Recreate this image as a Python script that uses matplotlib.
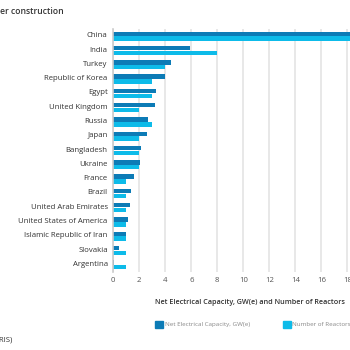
import numpy as np
import matplotlib.pyplot as plt

plt.rcParams['font.family'] = ['Open Sans', 'DejaVu Sans']

countries = ['China', 'India', 'Turkey', 'Republic of Korea', 'Egypt', 'United Kingdom',
             'Russia', 'Japan', 'Bangladesh', 'Ukraine', 'France', 'Brazil',
             'United Arab Emirates', 'United States of America', 'Islamic Republic of Iran',
             'Slovakia', 'Argentina']
capacity = [21.0, 5.9, 4.4, 4.0, 3.3, 3.2, 2.7, 2.6, 2.15, 2.05, 1.6, 1.35, 1.3, 1.1, 0.97, 0.47, 0.03]
reactors = [22, 8, 4, 3, 3, 2, 3, 2, 2, 2, 1, 1, 1, 1, 1, 1, 1]

dark = '#0c7bb6'
light = '#0dbbe9'

fig = plt.figure(figsize=(3.5, 3.5), dpi=100)
W, H = 350.0, 350.0
# axes: x=0 at 113 px, 13 px per unit, xlim 0..22 (extends past right edge)
x0, top, bottom = 113.3, 29.0, 272.0
xmax = 22
ax = fig.add_axes([x0 / W, 1 - bottom / H, xmax * 13.0 / W, (bottom - top) / H])

y = np.arange(len(countries))
h = 0.31
ax.barh(y - 0.17, capacity, height=h, color=dark, zorder=3)
ax.barh(y + 0.17, reactors, height=h, color=light, zorder=3)

ax.set_ylim(len(countries) - 0.5, -0.5)
ax.set_xlim(0, xmax)
ax.set_xticks(np.arange(0, 22, 2))
ax.set_yticks(y - 0.1)
ax.set_yticklabels(countries)
ax.tick_params(axis='y', length=0, pad=4, labelsize=5.6, labelcolor='#333333')
ax.tick_params(axis='x', length=0, pad=3.5, labelsize=5.6, labelcolor='#555555')
ax.grid(axis='x', color='#e6e6e6', linewidth=1.3, zorder=0)
for s in ['top', 'right', 'bottom']:
    ax.spines[s].set_visible(False)
ax.spines['left'].set_color('#cccccc')
ax.spines['left'].set_linewidth(1.2)
ax.spines['left'].set_zorder(4)

fig.text(64 / W, 1 - 11 / H, 'Number of Reactors under construction', ha='right', va='center',
         fontsize=6.2, fontweight='semibold', color='#333333')
fig.text(155 / W, 1 - 303 / H, 'Net Electrical Capacity, GW(e) and Number of Reactors',
         ha='left', va='center', fontsize=5.25, fontweight='semibold', color='#333333')

# legend
fig.patches.append(plt.Rectangle((155 / W, 1 - 328 / H), 7.5 / W, 7.5 / H,
                                 transform=fig.transFigure, color=dark))
fig.text(165 / W, 1 - 324.5 / H, 'Net Electrical Capacity, GW(e)', ha='left', va='center',
         fontsize=4.5, color='#888888')
fig.patches.append(plt.Rectangle((283 / W, 1 - 328 / H), 7.5 / W, 7.5 / H,
                                 transform=fig.transFigure, color=light))
fig.text(292 / W, 1 - 324.5 / H, 'Number of Reactors', ha='left', va='center',
         fontsize=4.5, color='#888888')

fig.text(12 / W, 1 - 341 / H, 'Source: IAEA Power Reactor Information System (PRIS)',
         ha='right', va='center', fontsize=5.6, color='#333333')

fig.savefig('out.png', dpi=100)
